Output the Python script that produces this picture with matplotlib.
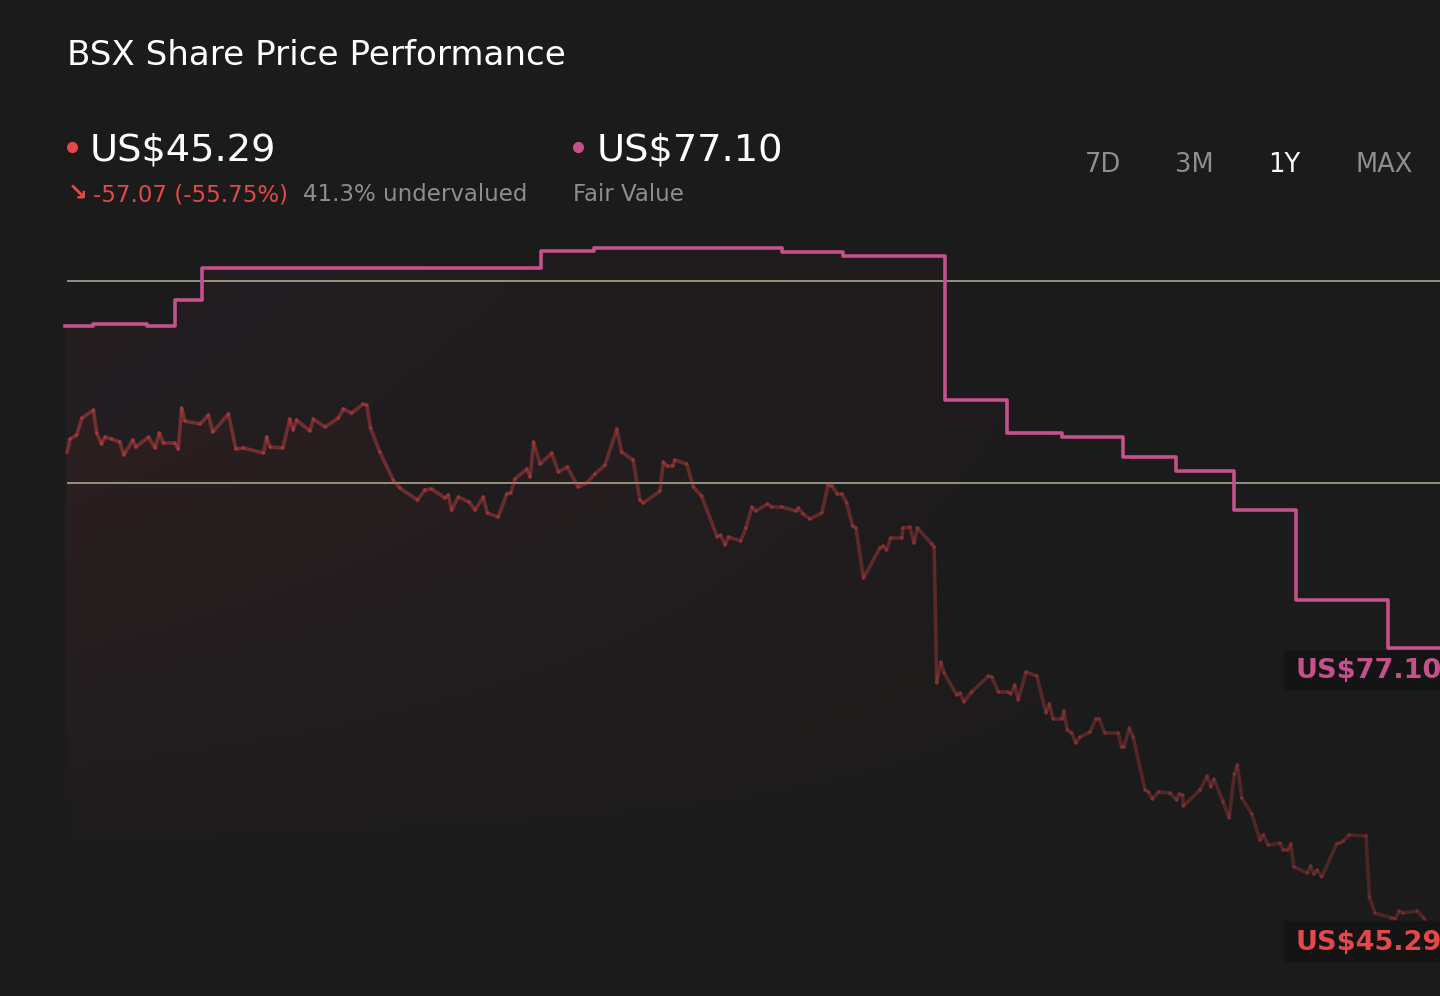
import numpy as np
import matplotlib
matplotlib.use("Agg")
import matplotlib.pyplot as plt
from matplotlib.collections import LineCollection
from matplotlib.patches import Polygon, Rectangle
from matplotlib.colors import to_rgb

# ---- data (day index from start of 1Y window, price in US$) ----
price_days = [0, 0.8, 2.6, 4.0, 7.1, 8.0, 9.3, 10.2, 12.0, 14.2, 15.3, 17.7, 18.5, 21.9, 23.7, 24.8,
              25.9, 29.0, 29.9, 30.8, 31.7, 35.8, 38.0, 39.2, 43.4, 45.4, 47.4, 52.8, 53.7, 54.6,
              58.0, 59.9, 60.8, 61.7, 65.3, 66.2, 69.4, 72.9, 74.3, 76.5, 79.6, 80.6, 81.6, 84.1,
              87.7, 89.5, 94.2, 96.2, 98.0, 101.6, 102.5, 103.4, 105.2, 108.1, 109.7, 111.9, 113.0,
              115.9, 118.2, 119.3, 120.4, 123.6, 124.5, 125.4, 127.2, 130.3, 132.1, 134.5, 137.4,
              139.7, 141.9, 144.6, 147.8, 149.1, 152.2, 154.0, 154.9, 159.4, 160.3, 161.4, 162.8,
              163.4, 166.6, 168.4, 170.6, 174.8, 175.7, 176.9, 177.8, 181.1, 182.5, 184.1, 185.2,
              188.3, 189.4, 192.1, 196.0, 196.6, 197.9, 199.7, 202.9, 204.6, 205.6, 207.1, 208.3,
              209.6, 211.2, 212.1, 214.1, 218.5, 219.4, 220.3, 221.4, 224.4, 224.7, 226.6, 227.7,
              228.6, 232.5, 233.1, 233.8, 234.9, 235.8, 239.2, 240.1, 241.1, 243.2, 247.7, 248.6,
              250.4, 253.0, 253.7, 254.8, 255.7, 257.8, 260.7, 263.2, 264.1, 265.1, 267.4, 268.0,
              268.9, 270.1, 271.2, 272.3, 275.0, 276.6, 277.5, 279.0, 282.6, 283.5, 284.1, 285.6,
              286.6, 289.8, 290.7, 291.8, 293.4, 296.5, 298.3, 299.0, 299.9, 300.1, 304.6, 306.5,
              307.5, 308.3, 310.8, 312.4, 313.8, 314.6, 315.8, 318.5, 320.7, 321.6, 322.9, 326.1,
              327.0, 328.1, 329.0, 329.8, 333.4, 334.3, 335.2, 336.1, 337.3, 341.3, 342.2, 343.1,
              344.7, 349.2, 350.1, 351.6, 356.1, 357.0, 358.1, 359.2, 362.9, 364.7, 365.5]
price_vals = [99.78, 101.37, 101.84, 103.81, 104.74, 102.07, 100.79, 101.61, 101.37, 101.03, 99.52,
              101.26, 100.44, 101.61, 100.33, 102.07, 100.91, 100.91, 100.21, 104.97, 103.46, 103.12,
              104.16, 102.19, 104.28, 100.21, 100.33, 99.75, 101.61, 100.44, 100.33, 103.70, 102.42,
              103.58, 102.30, 103.70, 102.77, 103.81, 104.86, 104.39, 105.44, 105.33, 102.65, 99.86,
              96.61, 95.68, 94.29, 95.45, 95.57, 94.52, 94.87, 93.13, 94.64, 94.06, 93.13, 94.64,
              92.78, 92.31, 94.99, 95.10, 96.73, 97.89, 96.96, 101.03, 98.47, 99.75, 97.54, 98.12,
              95.80, 96.26, 97.31, 98.35, 102.53, 99.86, 98.93, 94.29, 93.94, 95.33, 98.70, 98.24,
              98.24, 98.93, 98.47, 95.80, 94.75, 89.99, 90.22, 89.06, 89.99, 89.53, 91.04, 93.48,
              93.01, 93.82, 93.48, 93.48, 93.01, 93.36, 92.66, 92.08, 92.78, 96.03, 95.91, 94.99,
              94.99, 93.94, 91.27, 91.04, 85.23, 88.71, 88.95, 88.48, 89.88, 89.88, 91.04, 91.15,
              89.29, 91.04, 89.18, 88.83, 73.04, 75.47, 74.20, 71.64, 71.87, 70.83, 71.99, 73.85,
              73.73, 71.99, 71.99, 71.76, 72.80, 71.06, 74.31, 73.85, 69.55, 70.60, 68.85, 68.85,
              69.78, 67.58, 67.23, 66.07, 66.76, 67.34, 68.85, 68.85, 67.23, 67.23, 65.60, 65.60,
              67.81, 66.76, 60.61, 60.38, 59.56, 60.38, 60.26, 59.45, 60.14, 60.03, 58.75, 60.61,
              62.23, 60.96, 61.89, 59.21, 57.36, 62.47, 63.51, 59.68, 57.82, 54.80, 55.38, 54.22,
              54.45, 53.64, 53.64, 54.34, 51.67, 50.97, 51.78, 50.85, 51.32, 50.50, 54.34, 54.45,
              54.68, 55.38, 55.27, 48.18, 46.32, 45.74, 45.63, 46.56, 46.32, 46.56, 45.74, 45.29]

fv_days = [-0.5, 7.1, 21.5, 29.0, 36.2, 127.4, 141.7, 192.2, 208.6, 236.0, 252.7, 267.5,
           283.9, 298.1, 313.7, 330.4, 355.1, 369.1]
fv_vals = [114.50, 114.69, 114.50, 117.52, 121.29, 123.21, 123.61, 123.09, 122.57, 105.90,
           102.07, 101.61, 99.28, 97.66, 93.13, 82.67, 77.10, 77.10]

grid_vals = [119.72, 96.26]

last_price = "US$45.29"
fair_value = "US$77.10"
change_txt = "\u2198 -57.07 (-55.75%)"
underval_txt = "41.3% undervalued"
periods = ["7D", "3M", "1Y", "MAX"]
period_x = [1085, 1175, 1268, 1355]
active_period = "1Y"

BG = "#1b1b1b"
RED = "#e44848"
PINK = "#c4508c"
GREY = "#8e8e8e"

W, H = 1440, 996
fig = plt.figure(figsize=(W / 100, H / 100), dpi=100, facecolor=BG)
ax = fig.add_axes([0, 0, 1, 1])
ax.set_facecolor(BG)
ax.axis("off")

xmin, xmax = -18.01, 369.09
ymin, ymax = 36.68, 152.36


def fx(px):
    return px / W


def fy(py):
    return 1 - py / H


def grad_fill(xs, ys, color, a_left, a_right, y_bot, z):
    verts = [(xs[0], y_bot)] + list(zip(xs, ys)) + [(xs[-1], y_bot)]
    poly = Polygon(verts, closed=True, facecolor="none", edgecolor="none")
    ax.add_patch(poly)
    nx, ny = 400, 200
    hx = np.linspace(0, 1, nx)
    vy = np.linspace(0, 1, ny)
    alpha = (a_left + (a_right - a_left) * hx)[None, :] * (vy ** 0.6)[:, None]
    img = np.zeros((ny, nx, 4))
    img[..., :3] = to_rgb(color)
    img[..., 3] = alpha
    im = ax.imshow(img, extent=[xs[0], xs[-1], y_bot, max(ys)], origin="lower",
                   aspect="auto", zorder=z, interpolation="bilinear")
    im.set_clip_path(poly)


# step path for fair value
fv_x, fv_y = [], []
for i in range(len(fv_days) - 1):
    fv_x += [fv_days[i], fv_days[i + 1]]
    fv_y += [fv_vals[i], fv_vals[i]]

grad_fill(fv_x, fv_y, PINK, 0.06, 0.0, 52, 1)
grad_fill(price_days, price_vals, RED, 0.05, 0.005, 52, 2)

# gridlines
ax.hlines(grid_vals, 0, xmax, color="#a8a592", lw=1.2, zorder=3)

# price line with fading alpha
pts = np.column_stack([price_days, price_vals])
segs = np.stack([pts[:-1], pts[1:]], axis=1)
fade = np.linspace(0.42, 0.24, len(segs))
cols = [(*to_rgb(RED), a) for a in fade]
ax.add_collection(LineCollection(segs, colors=cols, linewidths=2.6, zorder=4,
                                 capstyle="round", joinstyle="round"))

# fair value step line
ax.plot(fv_days, fv_vals, drawstyle="steps-post", color=PINK, lw=2.6, zorder=5)

ax.set_xlim(xmin, xmax)
ax.set_ylim(ymin, ymax)

# header texts
fig.text(fx(67), fy(65), "BSX Share Price Performance", color="white", fontsize=24.6)
ax.plot([fx(72)], [fy(147)], "o", color=RED, ms=7, transform=fig.transFigure, clip_on=False)
fig.text(fx(90), fy(161), last_price, color="white", fontsize=27.6)
fig.text(fx(68), fy(201), change_txt[0], color=RED, fontsize=17, fontweight="bold")
fig.text(fx(93), fy(201), change_txt[2:], color=RED, fontsize=16.5)
fig.text(fx(303), fy(201), underval_txt, color=GREY, fontsize=16.5)
ax.plot([fx(578)], [fy(147)], "o", color=PINK, ms=7, transform=fig.transFigure, clip_on=False)
fig.text(fx(597), fy(161), fair_value, color="white", fontsize=27.6)
fig.text(fx(573), fy(201), "Fair Value", color=GREY, fontsize=16.5)
for p, x in zip(periods, period_x):
    fig.text(fx(x), fy(172), p, color="white" if p == active_period else GREY, fontsize=18.5)

# end labels
for txt, col, top, bot in [(fair_value, PINK, 651, 689), (last_price, RED, 921, 961)]:
    fig.patches.append(Rectangle((fx(1284), fy(bot)), fx(W - 1284), (bot - top) / H,
                                 transform=fig.transFigure, color="#141414", zorder=6))
    fig.text(fx(1295), fy(bot - 11), txt, color=col, fontsize=19.5, fontweight="bold", zorder=7)

fig.savefig("out.png", dpi=100, facecolor=BG)
